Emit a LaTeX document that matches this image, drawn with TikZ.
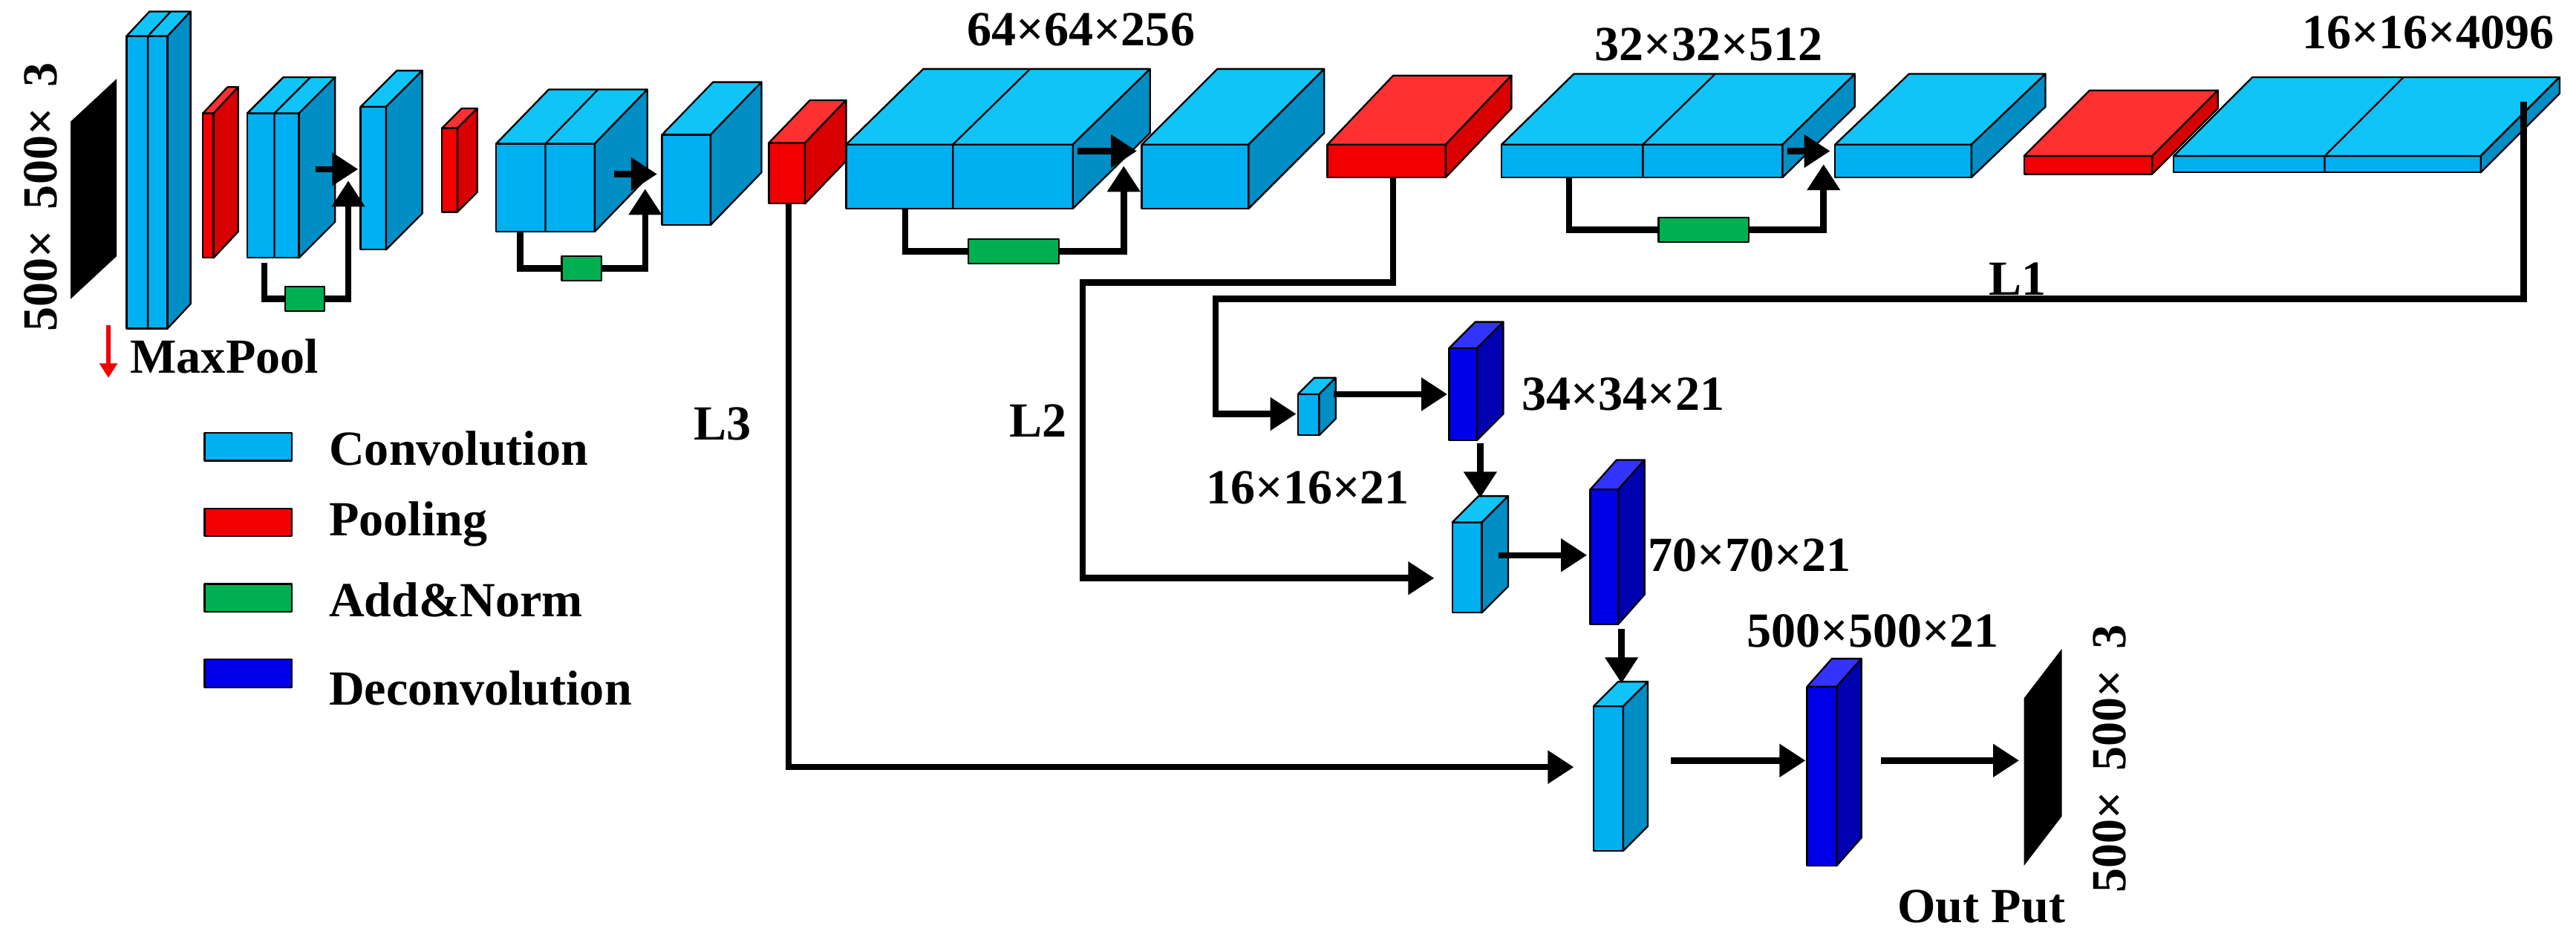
\documentclass[tikz,border=0pt]{standalone}
\usepackage{fontspec}
\setmainfont{Liberation Serif}
\usetikzlibrary{arrows.meta,positioning}
\definecolor{convf}{HTML}{00B0F0}
\definecolor{convs}{HTML}{008EC4}
\definecolor{convt}{HTML}{10C4F8}
\definecolor{poolf}{HTML}{F00000}
\definecolor{pools}{HTML}{D80000}
\definecolor{poolt}{HTML}{FF3030}
\definecolor{deconvf}{HTML}{0000E8}
\definecolor{deconvs}{HTML}{0000B0}
\definecolor{deconvt}{HTML}{3333FF}
\definecolor{normc}{HTML}{00B050}
\tikzset{
	blkline/.style={draw=black, line width=0.6pt, line join=round},
	conn/.style={line width=2.2pt, line join=miter},
	arr/.style={conn, -{Triangle[length=9pt,width=11pt]}},
	lbl/.style={font=\fontsize{17}{20}\selectfont\bfseries, inner sep=0pt},
	normbox/.style={blkline, fill=normc, minimum width=0.48cm, minimum height=0.3cm, inner sep=0pt},
	legbox/.style={blkline, fill=#1, minimum width=1.06cm, minimum height=0.34cm, inner sep=0pt}
}
% block: x, y (front bottom-left), w, h, dx, dy, colour prefix, divider xs
\newcommand\blk[8]{%
	\filldraw[blkline, fill=#7f] (#1,#2) rectangle ++(#3,-#4);
	\filldraw[blkline, fill=#7t] (#1,#2-#4) -- ++(#5,-#6) -- ++(#3,0) -- ++(-#5,#6) -- cycle;
	\filldraw[blkline, fill=#7s] (#1+#3,#2) -- ++(0,-#4) -- ++(#5,-#6) -- ++(0,#4) -- cycle;
	\foreach \d in {#8}{\draw[blkline] (\d,#2) -- ++(0,-#4) -- ++(#5,-#6);}%
}
\begin{document}
\begin{tikzpicture}[x=0.02cm, y=-0.02cm]
	\useasboundingbox (0,0) rectangle (1568,570);
	% input and output planes
	\fill[black] (43,74) -- (71,48) -- (71,156) -- (43,182) -- cycle;
	\fill[black] (1232,425) -- (1255,395) -- (1255,497) -- (1232,527) -- cycle;
	\node[lbl, rotate=90] (inlbl) at (25,120) {500×\, 500×\, 3};
	\node[lbl, rotate=90] (outlbl) at (1284,462) {500×\, 500×\, 3};
	\node[lbl] (output) at (1206,552) {Out Put};
	% encoder
	\blk{77}{200}{25}{178}{14}{15}{conv}{90}
	\blk{123.5}{157}{6.5}{88}{15}{16}{pool}{}
	\blk{150.5}{157}{31.5}{88}{22}{22}{conv}{167}
	\blk{219.5}{152}{15.5}{87}{22}{22}{conv}{}
	\blk{269}{129}{9.5}{51}{12}{12}{pool}{}
	\blk{302}{141}{60}{53.5}{32}{33}{conv}{332}
	\blk{403}{137}{29.5}{55}{31}{32}{conv}{}
	\blk{468}{124}{22}{37}{25}{26}{pool}{}
	\blk{515}{127}{138}{39}{47}{46}{conv}{580}
	\blk{695}{127}{65}{39}{46}{46}{conv}{}
	\blk{808}{108}{72}{20}{40}{42}{pool}{}
	\blk{914}{108}{171}{20}{44}{43}{conv}{1000}
	\blk{1117}{108}{83}{20}{45}{43}{conv}{}
	\blk{1232}{106}{78}{11}{40}{40}{pool}{}
	\blk{1323}{105}{187}{10}{48}{48}{conv}{1415}
	% decoder
	\blk{790}{265}{13}{25}{10}{10}{conv}{}
	\blk{882}{268}{17}{56}{16}{16}{deconv}{}
	\blk{884}{373}{18}{55}{16}{16}{conv}{}
	\blk{968}{380}{17}{82}{16}{18}{deconv}{}
	\blk{970}{518}{18}{88}{15}{15}{conv}{}
	\blk{1100}{527}{18}{109}{15}{17}{deconv}{}
	% size labels
	\node[lbl] (s1) at (658,18) {64×64×256};
	\node[lbl] (s2) at (1040,27) {32×32×512};
	\node[lbl] (s3) at (1478,20) {16×16×4096};
	\node[lbl] (s4) at (796,297) {16×16×21};
	\node[lbl] (s5) at (988,240) {34×34×21};
	\node[lbl] (s6) at (1065,338) {70×70×21};
	\node[lbl] (s7) at (1140,384) {500×500×21};
	\node[lbl] (l1) at (1228,170) {L1};
	\node[lbl] (l2) at (632,256) {L2};
	\node[lbl] (l3) at (440,258) {L3};
	% residual connections
	\node[normbox] (n1) at (185.5,182) {};
	\node[normbox] (n2) at (354,163.5) {};
	\node[normbox, minimum width=1.1cm] (n3) at (617,153) {};
	\node[normbox, minimum width=1.1cm] (n4) at (1037,140) {};
	\draw[conn] (161,160) |- (n1.west);
	\draw[arr] (n1.east) -| (212,110);
	\draw[arr] (192,103) -- (218,103);
	\draw[conn] (316.6,141) |- (n2.west);
	\draw[arr] (n2.east) -| (392.7,115);
	\draw[arr] (374,106) -- (400,106);
	\draw[conn] (551,127) |- (n3.west);
	\draw[arr] (n3.east) -| (684,101);
	\draw[arr] (656,92) -- (692,92);
	\draw[conn] (955,108) |- (n4.west);
	\draw[arr] (n4.east) -| (1110,100);
	\draw[arr] (1088,92) -- (1114,92);
	% skip paths
	\draw[arr] (1536,62) -- (1536,182) -| (740,252) -- (789,252);
	\draw[arr] (848,108) -- (848,172) -| (659,352) -- (873,352);
	\draw[arr] (480,124) |- (958,467);
	\draw[arr] (812,240) -- (881,240);
	\draw[arr] (901,270) -- (901,303);
	\draw[arr] (912,338) -- (966,338);
	\draw[arr] (987,383) -- (987,416);
	\draw[arr] (1017,463) -- (1099,463);
	\draw[arr] (1145,463) -- (1229,463);
	% legend
	\draw[poolf, line width=1.5pt, -{Triangle[length=5pt,width=6pt]}] (66,198) -- (66,230);
	\node[lbl, anchor=west] (maxpool) at (79,217) {MaxPool};
	\node[legbox=convf] (lc) at (151,272) {};
	\node[legbox=poolf] (lp) at (151,318) {};
	\node[legbox=normc] (ln) at (151,364) {};
	\node[legbox=deconvf] (ld) at (151,410) {};
	\node[lbl, anchor=west] at (200,273) {Convolution};
	\node[lbl, anchor=west] at (200,319) {Pooling};
	\node[lbl, anchor=west] at (200,365) {Add\&Norm};
	\node[lbl, anchor=west] at (200,419) {Deconvolution};
\end{tikzpicture}
\end{document}
